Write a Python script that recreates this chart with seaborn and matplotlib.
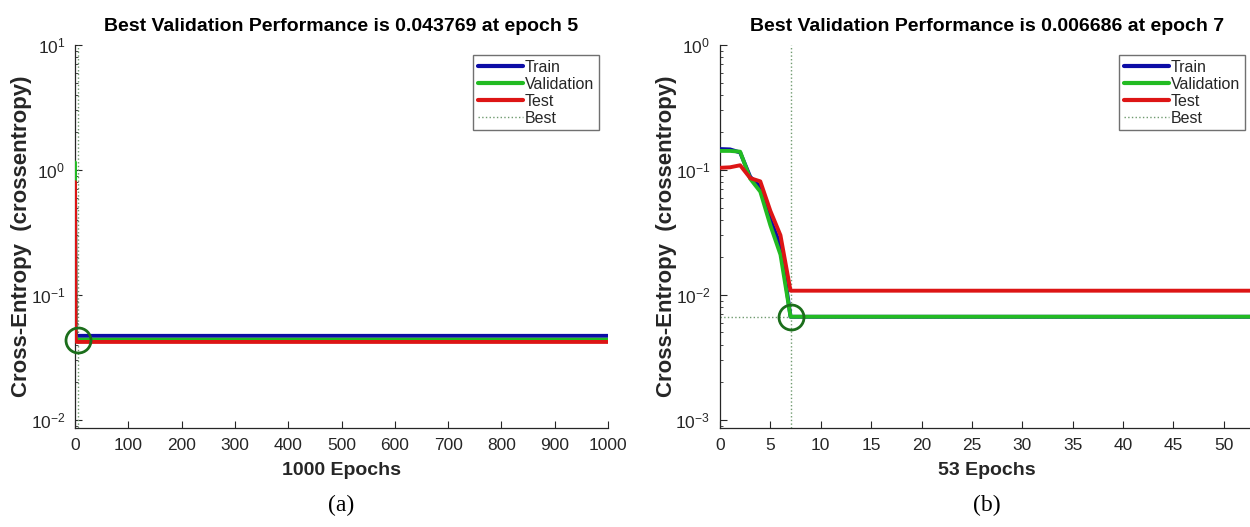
import math
import matplotlib
matplotlib.use('Agg')
import matplotlib.pyplot as plt
import seaborn as sns
from matplotlib.ticker import LogLocator, NullFormatter, FixedLocator
from matplotlib.lines import Line2D

# panel (a): 1000 epochs
epochs_a = [0, 1, 2, 3, 4, 5, 1000]
train_a = [0.95, 0.052, 0.048, 0.047, 0.047, 0.047, 0.047]
val_a = [1.15, 0.048, 0.045, 0.044, 0.0438, 0.043769, 0.043769]
test_a = [0.80, 0.046, 0.043, 0.042, 0.042, 0.042, 0.042]
best_epoch_a = 5
best_val_a = 0.043769

# panel (b): 53 epochs
epochs_b = [0, 1, 2, 3, 4, 5, 6, 7, 53]
train_b = [0.147, 0.146, 0.138, 0.088, 0.073, 0.040, 0.025, 0.00668, 0.00668]
val_b = [0.142, 0.142, 0.140, 0.085, 0.067, 0.036, 0.021, 0.006686, 0.006686]
test_b = [0.104, 0.105, 0.109, 0.086, 0.081, 0.047, 0.030, 0.0108, 0.0108]
best_epoch_b = 7
best_val_b = 0.006686

xticks_a = [0, 100, 200, 300, 400, 500, 600, 700, 800, 900, 1000]
xticks_b = [0, 5, 10, 15, 20, 25, 30, 35, 40, 45, 50]

colors = {'Train': '#0c0ca6', 'Validation': '#22bb22', 'Test': '#dd1515'}
best_color = '#6f9a6f'
circle_color = '#1b6e1b'
txt = '#262626'

sns.set_style('ticks')
plt.rcParams['font.family'] = ['Liberation Sans', 'DejaVu Sans']
plt.rcParams['mathtext.default'] = 'regular'

fig = plt.figure(figsize=(12.5, 5.27), dpi=100)
ax1 = fig.add_axes([0.06, 0.188, 0.4264, 0.7266])
ax2 = fig.add_axes([0.576, 0.188, 0.4272, 0.7266])


def draw_panel(ax, epochs, train, val, test, best_ep, best_v, n_epochs,
               xticks, ylims, yticks, letter):
    ax.set_yscale('log')
    # best lines
    ax.axvline(best_ep, color=best_color, ls=':', lw=1.0, zorder=1)
    ax.axhline(best_v, color=best_color, ls=':', lw=1.0, zorder=1)
    for name, vals in [('Train', train), ('Validation', val), ('Test', test)]:
        sns.lineplot(x=epochs, y=vals, ax=ax, color=colors[name], lw=2.8,
                     sort=False, legend=False, zorder=3)
    ax.plot([best_ep], [best_v], marker='o', ms=18, mfc='none',
            mec=circle_color, mew=2.0, zorder=5, clip_on=False)

    ax.set_xlim(0, n_epochs)
    ax.set_ylim(*ylims)
    ax.xaxis.set_major_locator(FixedLocator(xticks))
    ax.set_yticks(yticks)
    ax.set_yticklabels(['$10^{%d}$' % round(math.log10(t)) for t in yticks])
    ax.yaxis.set_minor_locator(LogLocator(base=10, subs=range(2, 10), numticks=20))
    ax.yaxis.set_minor_formatter(NullFormatter())
    ax.tick_params(which='major', direction='in', length=5, width=0.8,
                   labelsize=12.5, colors=txt, pad=7)
    ax.tick_params(which='minor', direction='in', length=2.5, width=0.6, colors=txt)
    sns.despine(ax=ax)
    for s in ['left', 'bottom']:
        ax.spines[s].set_color(txt)
        ax.spines[s].set_linewidth(0.9)

    ax.set_title('Best Validation Performance is %g at epoch %d' % (best_v, best_ep),
                 fontsize=14, fontweight='bold', color='black', pad=10)
    ax.set_xlabel('%d Epochs' % n_epochs, fontsize=14, fontweight='bold',
                  color=txt, labelpad=7)
    ax.set_ylabel('Cross-Entropy  (crossentropy)', fontsize=16,
                  fontweight='bold', color=txt, labelpad=-1)

    handles = [Line2D([], [], color=colors['Train'], lw=3),
               Line2D([], [], color=colors['Validation'], lw=3),
               Line2D([], [], color=colors['Test'], lw=3),
               Line2D([], [], color=best_color, lw=1.0, ls=':')]
    leg = ax.legend(handles, ['Train', 'Validation', 'Test', 'Best'],
                    loc='upper right', bbox_to_anchor=(1 - 9 / 533, 1 - 10 / 383),
                    fontsize=11.5, handlelength=2.8, handletextpad=0.15,
                    labelspacing=0.12, borderpad=0.3, borderaxespad=0,
                    fancybox=False, framealpha=1, edgecolor='#707070')
    leg.get_frame().set_linewidth(1.0)

    pos = ax.get_position()
    fig.text(pos.x0 + pos.width / 2, 0.04, '(%s)' % letter, ha='center',
             va='center', fontsize=17, family='Liberation Serif', color='black')


draw_panel(ax1, epochs_a, train_a, val_a, test_a, best_epoch_a, best_val_a, 1000,
           xticks_a, (10 ** -2.065, 10 ** 1), [1e-2, 1e-1, 1e0, 1e1], 'a')
draw_panel(ax2, epochs_b, train_b, val_b, test_b, best_epoch_b, best_val_b, 53,
           xticks_b, (10 ** -3.065, 10 ** 0), [1e-3, 1e-2, 1e-1, 1e0], 'b')

fig.savefig('out.png', dpi=100)
